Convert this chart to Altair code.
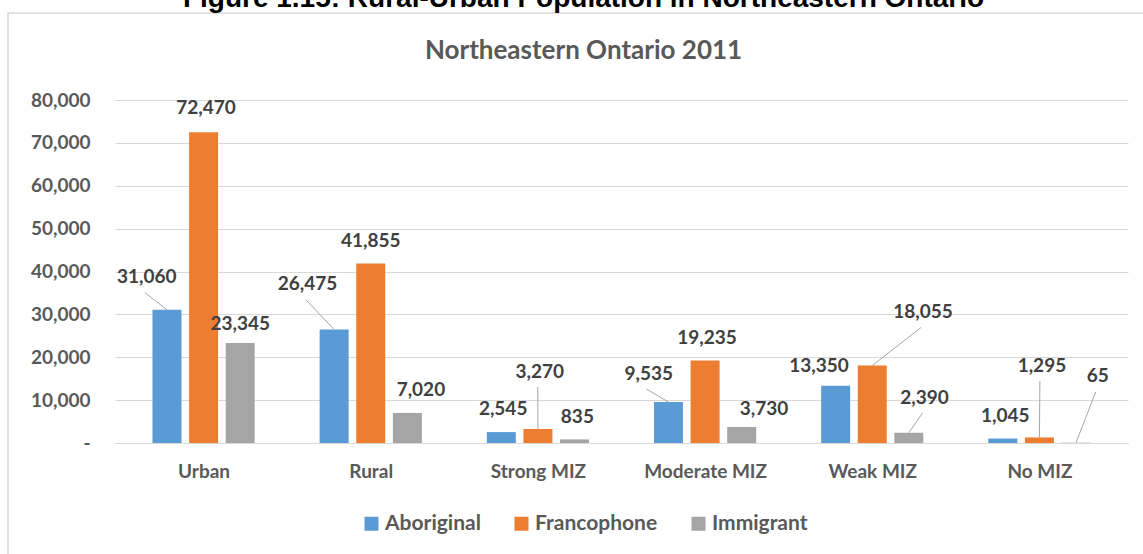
import json
import altair as alt
import pandas as pd

# ---------------- data ----------------
categories = ["Urban", "Rural", "Strong MIZ", "Moderate MIZ", "Weak MIZ", "No MIZ"]
series = ["Aboriginal", "Francophone", "Immigrant"]
aboriginal = [31060, 26475, 2545, 9535, 13350, 1045]
francophone = [72470, 41855, 3270, 19235, 18055, 1295]
immigrant = [23345, 7020, 835, 3730, 2390, 65]
y_ticks = [0, 10000, 20000, 30000, 40000, 50000, 60000, 70000, 80000]

# Excel-style manual label nudges: horizontal (category widths) and vertical (people)
nudge_x_aboriginal = [-0.121, -0.159, 0.011, -0.118, -0.099, 0.015]
nudge_x_francophone = [0.015, 0.0, 0.011, 0.012, 0.304, 0.015]
nudge_x_immigrant = [0.0, 0.081, 0.017, 0.134, 0.094, 0.130]
nudge_y_aboriginal = [7650, 10605, 5384, 6626, 4723, 5368]
nudge_y_francophone = [5650, 5250, 13404, 5298, 12494, 16778]
nudge_y_immigrant = [4406, 5340, 5345, 4199, 8221, 15489]
leader_aboriginal = [1, 1, 0, 1, 0, 0]
leader_francophone = [0, 0, 1, 0, 1, 1]
leader_immigrant = [0, 0, 0, 0, 1, 1]

colors = ["#5B9BD5", "#ED7D31", "#A5A5A5"]
FONT = "Lato"
GRAY = "#595959"

values = [aboriginal, francophone, immigrant]
nx = [nudge_x_aboriginal, nudge_x_francophone, nudge_x_immigrant]
ny = [nudge_y_aboriginal, nudge_y_francophone, nudge_y_immigrant]
ld = [leader_aboriginal, leader_francophone, leader_immigrant]
GROUP_STEP = 0.219  # distance between bars inside a group, in category widths

rows = []
for s_i, s in enumerate(series):
    for c_i, c in enumerate(categories):
        xc = c_i + (s_i - 1) * GROUP_STEP
        v = values[s_i][c_i]
        lx = xc + nx[s_i][c_i]
        ly = v + ny[s_i][c_i]
        rows.append(dict(category=c, series=s, value=v, xc=xc, lx=lx, ly=ly,
                         lx0=lx - 0.012, ly0=ly - 3600, leader=ld[s_i][c_i]))
df = pd.DataFrame(rows)
df_leader = df[df["leader"] == 1]

x_scale = alt.Scale(domain=[-0.5, 5.5], nice=False, zero=False)
y_scale = alt.Scale(domain=[0, 80000], nice=False)

x_axis = alt.Axis(values=list(range(len(categories))),
                  labelExpr=json.dumps(categories) + "[datum.value]",
                  grid=False, ticks=False, tickSize=0, domain=True, domainColor="#D9D9D9",
                  labelPadding=19, labelFont=FONT, labelFontSize=19, labelFontWeight="bold",
                  labelColor=GRAY, title=None)
y_axis = alt.Axis(values=y_ticks,
                  labelExpr="datum.value == 0 ? '-' : format(datum.value, ',')",
                  grid=True, gridColor="#D9D9D9", gridWidth=1, domain=False, ticks=False,
                  tickSize=0, labelPadding=25, labelFont=FONT, labelFontSize=19,
                  labelFontWeight="bold", labelColor=GRAY, title=None)

bars = alt.Chart(df).mark_bar(size=29).encode(
    x=alt.X("xc:Q", scale=x_scale, axis=x_axis),
    y=alt.Y("value:Q", scale=y_scale, axis=y_axis),
    color=alt.Color("series:N", scale=alt.Scale(domain=series, range=colors),
                    legend=alt.Legend(orient="none", legendX=246, legendY=413,
                                      direction="horizontal", title=None,
                                      symbolType="square", symbolSize=196,
                                      symbolStrokeWidth=0, labelFont=FONT,
                                      labelFontSize=21, labelFontWeight="bold",
                                      labelColor=GRAY, labelOffset=3,
                                      columnPadding=30, padding=0)),
)

leaders = alt.Chart(df_leader).mark_rule(color="#A6A6A6", strokeWidth=1).encode(
    x=alt.X("lx0:Q", scale=x_scale),
    y=alt.Y("ly0:Q", scale=y_scale),
    x2="xc:Q",
    y2="value:Q",
)

labels = alt.Chart(df).mark_text(font=FONT, fontSize=19, fontWeight="bold",
                                 color="#404040", baseline="middle", align="center").encode(
    x=alt.X("lx:Q", scale=x_scale),
    y=alt.Y("ly:Q", scale=y_scale),
    text=alt.Text("value:Q", format=","),
)

one = pd.DataFrame({"k": [0]})
border = alt.Chart(one).mark_rect(fillOpacity=0, stroke="#D9D9D9", strokeWidth=1.5).encode(
    x=alt.value(-107), y=alt.value(-87), x2=alt.value(1060), y2=alt.value(470),
)
chart_title = alt.Chart(one).mark_text(text="Northeastern Ontario 2011", font=FONT,
                                       fontSize=26, fontWeight="bold", color=GRAY,
                                       baseline="middle", align="center").encode(
    x=alt.value(468.5), y=alt.value(-49),
)
fig_title = alt.Chart(one).mark_text(text="Figure 1.15: Rural-Urban Population in Northeastern Ontario",
                                     font="Liberation Sans", fontSize=28, fontWeight="bold",
                                     color="#000000", baseline="alphabetic", align="center").encode(
    x=alt.value(468.5), y=alt.value(-93),
)

chart = alt.layer(border, bars, leaders, labels, chart_title, fig_title).properties(
    width=1013, height=343,
    padding={"left": 115, "top": 100, "right": 15, "bottom": 111},
    autosize=alt.AutoSizeParams(type="none"),
    background="white",
).configure_view(stroke=None)

chart.save("out.html", embed_options={"renderer": "svg", "actions": False})
